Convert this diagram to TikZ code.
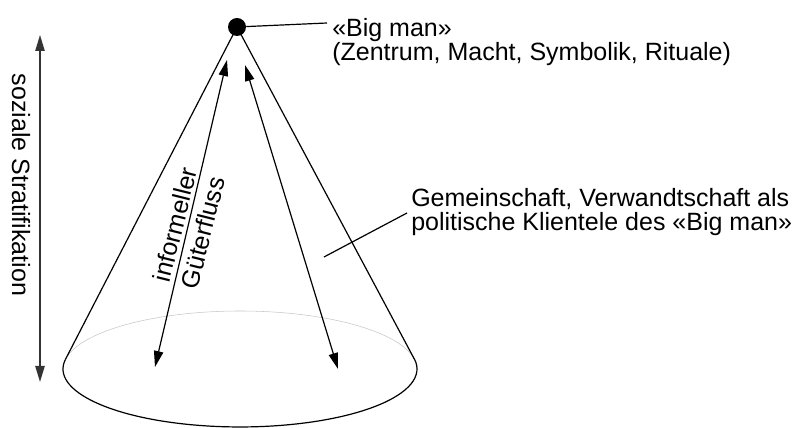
\documentclass[tikz,border=0pt]{standalone}
\usepackage{fontspec}
\setmainfont{Liberation Sans}
\usetikzlibrary{arrows.meta}

\begin{document}
\begin{tikzpicture}[x=0.75pt,y=0.75pt,
  lbl/.style={inner sep=0pt,align=left,font=\fontsize{18.75}{17.6}\selectfont},
  biarrow/.style={{Triangle[length=12pt,width=7pt]}-{Triangle[length=12pt,width=7pt]},line width=0.9pt}]
  \useasboundingbox (0,0) rectangle (794,428);
  % apex and base
  \node[circle,fill,inner sep=0pt,minimum size=13.5pt] (apex) at (237,401) {};
  \coordinate (tl) at (65.5,68.7);
  \coordinate (tr) at (414.3,69.0);
  \draw[gray!45,line width=0.4pt] (tr) arc[start angle=9.93,end angle=170.4,x radius=177,y radius=58];
  \draw[line width=0.9pt] (tl) arc[start angle=170.4,end angle=369.93,x radius=177,y radius=58];
  % cone sides
  \draw[line width=0.9pt] (apex.center) -- (tl);
  \draw[line width=0.9pt] (apex.center) -- (tr);
  % flows
  \coordinate (fla) at (227,368);
  \coordinate (flb) at (155,61);
  \coordinate (fra) at (245,363);
  \coordinate (frb) at (338,59);
  \draw[biarrow] (fla) -- (flb);
  \draw[biarrow] (fra) -- (frb);
  \node[lbl,rotate=76,font=\fontsize{18.75}{22}\selectfont] (flow) at (189,200) {informeller\\Güterfluss};
  % stratification
  \coordinate (st) at (40,393);
  \coordinate (sb) at (40,46);
  \draw[biarrow,black!80,line width=1.1pt] (st) -- (sb);
  \node[lbl,rotate=-90] (strat) at (21,243) {soziale Stratifikation};
  % labels
  \node[lbl,anchor=west] (bigman) at (332,386) {«Big man»\\(Zentrum, Macht, Symbolik, Rituale)};
  \coordinate (bmend) at (327,405);
  \draw[line width=0.9pt] (apex) -- (bmend);
  \node[lbl,anchor=west] (clients) at (411,216) {Gemeinschaft, Verwandtschaft als\\politische Klientele des «Big man»};
  \coordinate (clin) at (324,171);
  \coordinate (clout) at (407,215);
  \draw[line width=0.9pt] (clin) -- (clout);
\end{tikzpicture}
\end{document}
